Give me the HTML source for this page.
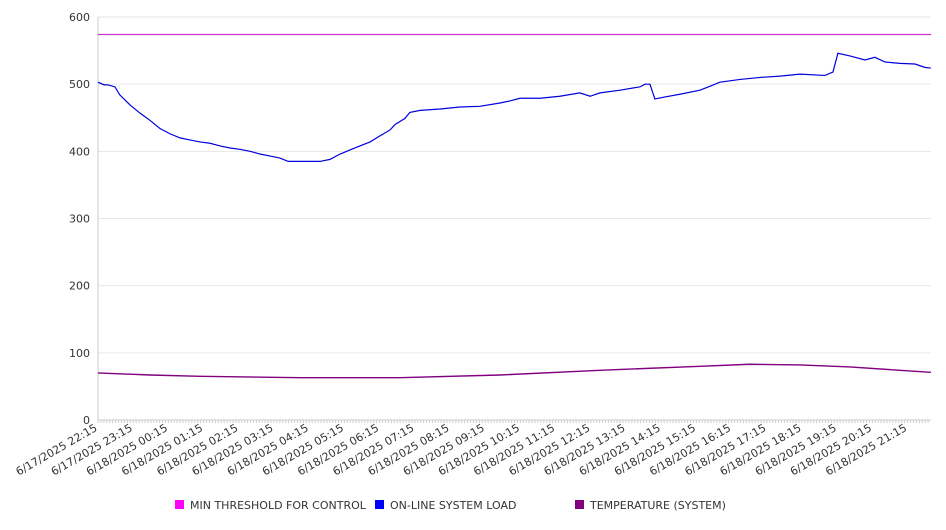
<!DOCTYPE html>
<html><head><meta charset="utf-8"><style>
body{margin:0;background:#fff;font-family:"DejaVu Sans","Liberation Sans",sans-serif;}
svg text{font-family:"DejaVu Sans","Liberation Sans",sans-serif;fill:#333;}
</style></head><body>
<svg id="chart" width="946" height="526" xmlns="http://www.w3.org/2000/svg">
<g id="grid"></g>
<g id="yaxis"></g>
<g id="xaxis"></g>
<g id="series"></g>
<g id="legend"></g>
</svg>
<script>
const xLabels=["6/17/2025 22:15","6/17/2025 23:15","6/18/2025 00:15","6/18/2025 01:15","6/18/2025 02:15","6/18/2025 03:15","6/18/2025 04:15","6/18/2025 05:15","6/18/2025 06:15","6/18/2025 07:15","6/18/2025 08:15","6/18/2025 09:15","6/18/2025 10:15","6/18/2025 11:15","6/18/2025 12:15","6/18/2025 13:15","6/18/2025 14:15","6/18/2025 15:15","6/18/2025 16:15","6/18/2025 17:15","6/18/2025 18:15","6/18/2025 19:15","6/18/2025 20:15","6/18/2025 21:15"];
const yTicks=[0,100,200,300,400,500,600];
// hours since 6/17 22:15
const loadHours=[0,0.17,0.28,0.48,0.62,0.91,1.19,1.48,1.76,2.05,2.33,2.61,2.9,3.18,3.47,3.75,4.03,4.32,4.6,4.89,5.17,5.4,5.74,6.31,6.59,6.88,7.16,7.44,7.73,8.01,8.3,8.44,8.72,8.86,9.15,9.72,10.28,10.85,11.42,11.7,11.99,12.56,13.12,13.69,13.98,14.26,14.83,15.4,15.54,15.68,15.82,16.11,16.53,17.1,17.39,17.67,18.24,18.81,19.38,19.94,20.65,20.88,21.02,21.36,21.79,22.07,22.36,22.78,23.21,23.49,23.66];
const loadVals=[503,499,499,496,484,469,457,446,434,426,420,417,414,412,408,405,403,400,396,393,390,385,385,385,388,396,402,408,414,423,432,440,449,458,461,463,466,467,472,475,479,479,482,487,482,487,491,496,500,500,478,481,485,491,497,503,507,510,512,515,513,518,546,542,536,540,533,531,530,525,524];
const tempHours=[0,1.48,2.9,5.74,8.58,11.42,14.26,17.1,18.52,19.94,21.36,22.78,23.66];
const tempVals=[70,67,65,63,63,67,74,80,83,82,79,74,71];
const threshold=574;
const NS="http://www.w3.org/2000/svg";
const X0=98,X1=931,Y0=420,Y1=17,HOUR=35.2;
const xs=h=>X0+h*HOUR, ys=v=>Y0-(v/600)*(Y0-Y1);
function mk(tag,attrs,parent){const e=document.createElementNS(NS,tag);for(const k in attrs)e.setAttribute(k,attrs[k]);parent.appendChild(e);return e;}
const grid=document.getElementById('grid'),ya=document.getElementById('yaxis'),xa=document.getElementById('xaxis'),se=document.getElementById('series'),lg=document.getElementById('legend');
yTicks.forEach(v=>{
  const l=mk('line',{x1:X0,x2:X1,y1:ys(v),y2:ys(v),stroke:'#e6e6e6','stroke-width':1},grid);
  
  
  const t=mk('text',{x:90,y:ys(v)+4,'text-anchor':'end','font-size':11},ya);
  t.textContent=v;
  
  
});
const ax=mk('line',{x1:X0,x2:X0,y1:Y1,y2:Y0,stroke:'#ccc'},ya);


const bx=mk('line',{x1:X0,x2:X1,y1:Y0,y2:Y0,stroke:'#ccc'},xa);


for(let m=0;m<=23.66*12;m++){const x=X0+m*HOUR/12;mk('line',{x1:x,x2:x,y1:Y0,y2:Y0+3,stroke:'#ccc'},xa);}
xLabels.forEach((s,i)=>{
  const x=xs(i);
  const t=mk('text',{x:x,y:Y0+10,'text-anchor':'end','font-size':11,transform:`rotate(-30 ${x} ${Y0+10})`},xa);
  t.textContent=s;
  
  
});
const th=mk('line',{x1:X0,x2:X1,y1:ys(threshold),y2:ys(threshold),stroke:'#cc33cc','stroke-width':1.2},se);


const lp=mk('polyline',{points:loadHours.map((h,i)=>xs(h)+','+ys(loadVals[i])).join(' '),fill:'none',stroke:'#0000dd','stroke-width':1.2},se);


const tp=mk('polyline',{points:tempHours.map((h,i)=>xs(h)+','+ys(tempVals[i])).join(' '),fill:'none',stroke:'#800080','stroke-width':1.4},se);


[['MIN THRESHOLD FOR CONTROL','#ff00ff',175],['ON-LINE SYSTEM LOAD','#0000ff',375],['TEMPERATURE (SYSTEM)','#800080',575]].forEach(([n,c,x])=>{
  const g=mk('g',{},lg);
  
  
  mk('rect',{x:x,y:500,width:9,height:9,fill:c},g);
  const t=mk('text',{x:x+15,y:509,'font-size':11},g);
  t.textContent=n;
});
</script>
</body></html>
